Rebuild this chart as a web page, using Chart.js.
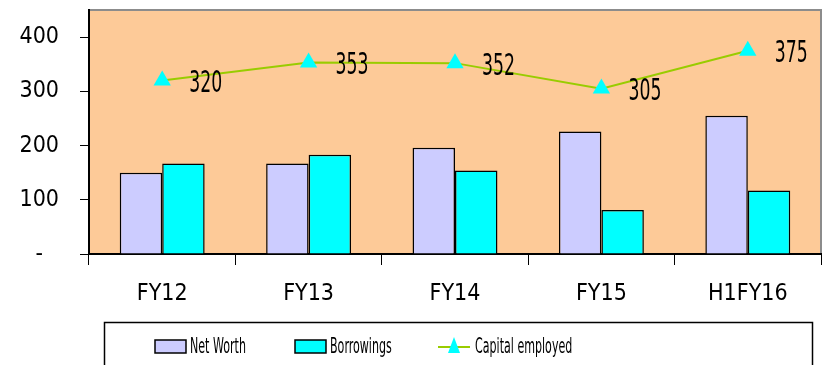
<!DOCTYPE html>
<html>
<head>
<meta charset="utf-8">
<script src="https://cdn.jsdelivr.net/npm/chart.js@4.4.0/dist/chart.umd.min.js"></script>
<style>
  html, body { margin: 0; padding: 0; background: #ffffff; }
  #wrap { width: 831px; height: 365px; position: relative; }
</style>
</head>
<body>
<div id="wrap"><canvas id="myChart" width="831" height="365"></canvas></div>
<script>
'use strict';
// chart data
let years = ['FY12', 'FY13', 'FY14', 'FY15', 'H1FY16'];
let netWorth = [150, 167, 196, 226, 255];
let borrowings = [167, 183, 154, 81, 117];
let capitalEmployed = [320, 353, 352, 305, 375];
let yTicks = [0, 100, 200, 300, 400];

let FONT = '"DejaVu Sans Condensed", "Liberation Sans Narrow", sans-serif';

// peach plot background + grey frame on top and right
let plotBg = {
  id: 'plotBg',
  beforeDraw(chart){
    let a = chart.chartArea;
    let ctx = chart.ctx;
    ctx.save();
    ctx.fillStyle = '#FDCA98';
    ctx.fillRect(a.left, a.top, a.right - a.left, a.bottom - a.top);
    ctx.strokeStyle = '#8c8c8c';
    ctx.lineWidth = 2;
    ctx.beginPath();
    ctx.moveTo(a.left, a.top);
    ctx.lineTo(a.right, a.top);
    ctx.lineTo(a.right, a.bottom);
    ctx.stroke();
    ctx.restore();
  }
};

// draws text squeezed sideways, the original uses a very narrow face
function narrowText(ctx, text, x, y, squeeze){
  ctx.save();
  ctx.translate(x, y);
  ctx.scale(squeeze, 1);
  ctx.fillText(text, 0, 0);
  ctx.restore();
}

// value labels next to the line points
let lineLabels = {
  id: 'lineLabels',
  afterDatasetsDraw(chart){
    let ctx = chart.ctx;
    let meta = chart.getDatasetMeta(2);
    ctx.save();
    ctx.font = '30px ' + FONT;
    ctx.fillStyle = '#000';
    ctx.textAlign = 'left';
    ctx.textBaseline = 'middle';
    meta.data.forEach(function(pt, i){
      narrowText(ctx, String(capitalEmployed[i]), pt.x + 27, pt.y + 4, 0.64);
    });
    ctx.restore();
  }
};

// boxed legend under the axis
let boxLegend = {
  id: 'boxLegend',
  afterDraw(chart){
    let ctx = chart.ctx;
    let ds = chart.data.datasets;
    let top = 322.5;
    ctx.save();
    ctx.strokeStyle = '#000';
    ctx.lineWidth = 1.5;
    ctx.strokeRect(104.5, top, 708, 60);
    ctx.font = '22px ' + FONT;
    ctx.textBaseline = 'middle';
    ctx.fillStyle = '#000';
    let cy = 347;
    // Net Worth
    ctx.fillStyle = ds[0].backgroundColor;
    ctx.fillRect(155, cy - 7, 31, 13);
    ctx.strokeRect(155, cy - 7, 31, 13);
    ctx.fillStyle = '#000';
    narrowText(ctx, ds[0].label, 190, cy, 0.56);
    // Borrowings
    ctx.fillStyle = ds[1].backgroundColor;
    ctx.fillRect(295, cy - 7, 31, 13);
    ctx.strokeRect(295, cy - 7, 31, 13);
    ctx.fillStyle = '#000';
    narrowText(ctx, ds[1].label, 330, cy, 0.56);
    // Capital employed
    ctx.strokeStyle = ds[2].borderColor;
    ctx.lineWidth = 2;
    ctx.beginPath();
    ctx.moveTo(438, cy);
    ctx.lineTo(470, cy);
    ctx.stroke();
    ctx.fillStyle = ds[2].pointBackgroundColor;
    ctx.beginPath();
    ctx.moveTo(454, cy - 10);
    ctx.lineTo(460, cy + 6);
    ctx.lineTo(448, cy + 6);
    ctx.closePath();
    ctx.fill();
    ctx.fillStyle = '#000';
    narrowText(ctx, ds[2].label, 475, cy, 0.56);
    ctx.restore();
  }
};

let ctx = document.getElementById('myChart');
let myChart = new Chart(ctx, {
  type: 'bar',
  data: {
    labels: years,
    datasets: [
      {
        label: 'Net Worth',
        data: netWorth,
        backgroundColor: '#CCCCFF',
        borderColor: '#000000',
        borderWidth: 1.5,
        categoryPercentage: 0.58,
        barPercentage: 1,
        order: 1
      },
      {
        label: 'Borrowings',
        data: borrowings,
        backgroundColor: '#00FFFF',
        borderColor: '#000000',
        borderWidth: 1.5,
        categoryPercentage: 0.58,
        barPercentage: 1,
        order: 1
      },
      {
        type: 'line',
        label: 'Capital employed',
        data: capitalEmployed,
        borderColor: '#99CC00',
        borderWidth: 2,
        pointStyle: 'triangle',
        pointRadius: 10,
        pointBackgroundColor: '#00FFFF',
        pointBorderColor: '#00FFFF',
        pointBorderWidth: 0,
        tension: 0,
        order: 0
      }
    ]
  },
  options: {
    responsive: false,
    animation: false,
    layout: { padding: { top: 9, right: 1, left: 0, bottom: 49 } },
    plugins: {
      legend: { display: false },
      tooltip: { enabled: false }
    },
    scales: {
      x: {
        offset: true,
        grid: {
          offset: true,
          drawOnChartArea: false,
          drawTicks: true,
          tickLength: 11,
          color: '#000',
          lineWidth: 1
        },
        border: { color: '#000', width: 2 },
        ticks: {
          color: '#000',
          font: { family: FONT, size: 23 },
          padding: 15
        },
        afterFit(scale){
          scale.height = 62;
          scale.paddingLeft = 0;
          scale.paddingRight = 0;
        }
      },
      y: {
        min: 0,
        max: 450,
        afterBuildTicks(scale){
          scale.ticks = yTicks.map(function(v){ return { value: v }; });
        },
        grid: {
          drawOnChartArea: false,
          drawTicks: true,
          tickLength: 9,
          color: '#000'
        },
        border: { color: '#000', width: 2 },
        ticks: {
          color: '#000',
          font: { family: FONT, size: 23 },
          crossAlign: 'center',
          padding: 21,
          callback(v){ return v === 0 ? '-' : v; }
        },
        afterFit(scale){
          scale.width = 89;
          scale.paddingTop = 0;
          scale.paddingBottom = 0;
        }
      }
    }
  },
  plugins: [plotBg, lineLabels, boxLegend]
});
</script>
</body>
</html>
